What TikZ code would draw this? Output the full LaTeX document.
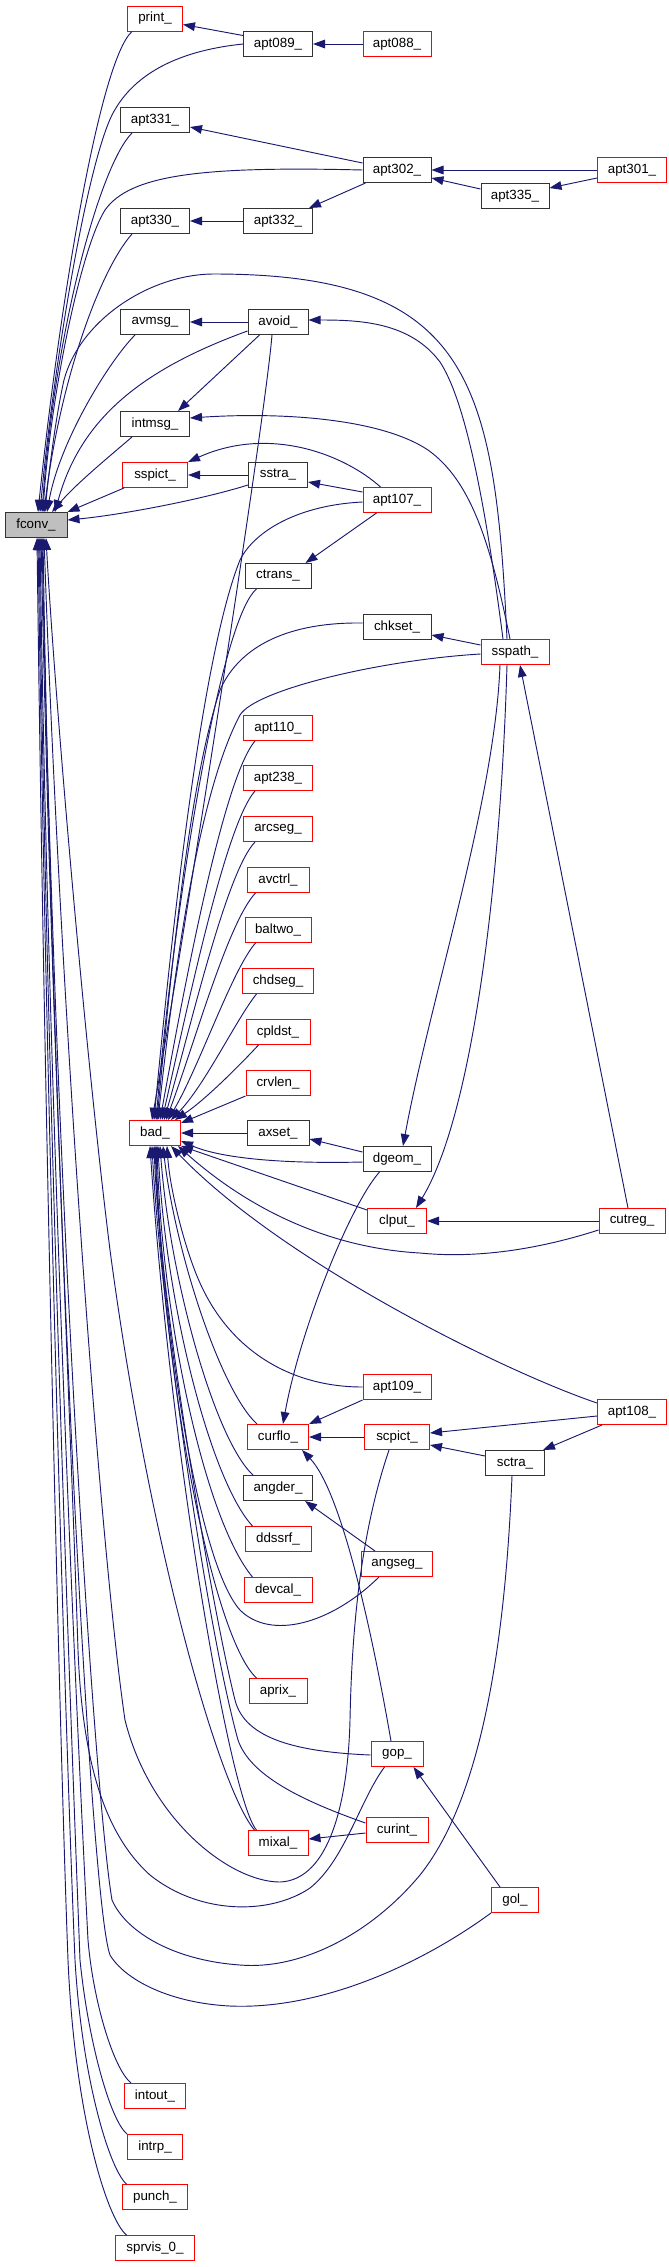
\documentclass[tikz,border=0pt]{standalone}
\usepackage{fontspec}
\setmainfont{Liberation Sans}
\usetikzlibrary{arrows.meta,calc}
\definecolor{edgecol}{HTML}{191970}
\definecolor{fgray}{HTML}{BFBFBF}
\begin{document}
\begin{tikzpicture}[x=0.75pt,y=-0.75pt,
  box/.style={draw, rectangle, minimum height=18.75pt, inner sep=0pt, line width=0.75pt, font=\fontsize{10}{12}\selectfont, text=black},
  bk/.style={box, draw=black!80},
  rd/.style={box, draw=red},
  wd/.style={minimum width=#1*0.75pt},
  e/.style={draw=edgecol, line width=0.7pt, -{Triangle[length=9pt,width=6.5pt]}}]
\fill[white] (0,0) rectangle (668,2267);
\useasboundingbox (0,0) rectangle (668,2267);

% nodes
\node[rd,wd=55] (print) at (155,18.5) {print\_};
\node[bk,wd=69] (apt089) at (278,44) {apt089\_};
\node[rd,wd=68] (apt088) at (397,44) {apt088\_};
\node[bk,wd=69] (apt331) at (155,120) {apt331\_};
\node[bk,wd=68] (apt302) at (397,170) {apt302\_};
\node[rd,wd=69] (apt301) at (632,170) {apt301\_};
\node[bk,wd=68] (apt335) at (515,196) {apt335\_};
\node[bk,wd=69] (apt330) at (155,221) {apt330\_};
\node[bk,wd=69] (apt332) at (278,221) {apt332\_};
\node[bk,wd=69] (avmsg) at (155,322) {avmsg\_};
\node[bk,wd=60] (avoid) at (278,322) {avoid\_};
\node[bk,wd=69] (intmsg) at (155,424) {intmsg\_};
\node[rd,wd=65] (sspict) at (155,475) {sspict\_};
\node[bk,wd=59] (sstra) at (278,475) {sstra\_};
\node[rd,wd=68] (apt107) at (397,500) {apt107\_};
\node[bk,wd=62,fill=fgray] (fconv) at (36,525) {fconv\_};
\node[bk,wd=66] (ctrans) at (278,576) {ctrans\_};
\node[bk,wd=68] (chkset) at (397,627) {chkset\_};
\node[rd,wd=68] (sspath) at (515,652) {sspath\_};
\node[rd,wd=69] (apt110) at (278,728) {apt110\_};
\node[rd,wd=69] (apt238) at (278,778) {apt238\_};
\node[rd,wd=69] (arcseg) at (278,829) {arcseg\_};
\node[rd,wd=62] (avctrl) at (278,880) {avctrl\_};
\node[rd,wd=66] (baltwo) at (278,930) {baltwo\_};
\node[rd,wd=71] (chdseg) at (278,981) {chdseg\_};
\node[rd,wd=64] (cpldst) at (278,1032) {cpldst\_};
\node[rd,wd=64] (crvlen) at (278,1083) {crvlen\_};
\node[rd,wd=51] (bad) at (155,1133) {bad\_};
\node[bk,wd=62] (axset) at (278,1133) {axset\_};
\node[bk,wd=68] (dgeom) at (397,1159) {dgeom\_};
\node[rd,wd=59] (clput) at (397,1221) {clput\_};
\node[rd,wd=66] (cutreg) at (632,1221) {cutreg\_};
\node[rd,wd=68] (apt109) at (397,1387) {apt109\_};
\node[rd,wd=69] (apt108) at (632,1412) {apt108\_};
\node[rd,wd=61] (curflo) at (278,1437) {curflo\_};
\node[rd,wd=65] (scpict) at (397,1437) {scpict\_};
\node[bk,wd=59] (sctra) at (515,1463) {sctra\_};
\node[bk,wd=69] (angder) at (278,1488) {angder\_};
\node[rd,wd=66] (ddssrf) at (278,1539) {ddssrf\_};
\node[rd,wd=71] (angseg) at (397,1564) {angseg\_};
\node[rd,wd=68] (devcal) at (278,1590) {devcal\_};
\node[rd,wd=58] (aprix) at (278,1691) {aprix\_};
\node[rd,wd=52] (gop) at (397,1754) {gop\_};
\node[rd,wd=62] (curint) at (397,1830) {curint\_};
\node[rd,wd=60] (mixal) at (278,1843) {mixal\_};
\node[rd,wd=47] (gol) at (515,1900) {gol\_};
\node[rd,wd=61] (intout) at (155,2096) {intout\_};
\node[rd,wd=55] (intrp) at (155,2147) {intrp\_};
\node[rd,wd=65] (punch) at (155,2197) {punch\_};
\node[rd,wd=79] (sprvis) at (155,2248) {sprvis\_0\_};

% ---- top part
\draw[e] ($(apt089.north west)+(0,4.5)$) -- ($(print.east)+(0,6)$);
\draw[e] (apt088.west) -- (apt089.east);
\draw[e] ($(print.south west)+(5,0)$) .. controls (100,60) and (60,300) .. ($(fconv.north)+(2,0)$);
\draw[e] (apt089.west) .. controls (185,50) and (135,70) .. (112,115) .. controls (85,170) and (52,380) .. ($(fconv.north)+(4,0)$);
\draw[e] ($(apt302.west)+(0,-7)$) -- ($(apt331.east)+(0,7)$);
\draw[e] ($(apt331.south west)+(12,0)$) .. controls (100,165) and (55,330) .. ($(fconv.north)+(6,0)$);
\draw[e] (apt301.west) -- (apt302.east);
\draw[e] ($(apt301.west)+(0,8)$) -- ($(apt335.east)+(0,-8)$);
\draw[e] ($(apt335.west)+(0,-7)$) -- ($(apt302.east)+(0,8)$);
\draw[e] (apt302.west) .. controls (200,166) and (130,175) .. (105,210) .. controls (80,250) and (50,400) .. ($(fconv.north)+(7,0)$);
\draw[e] ($(apt302.south west)+(3,0)$) -- ($(apt332.north east)+(-4,0)$);
\draw[e] (apt332.west) -- (apt330.east);
\draw[e] ($(apt330.south west)+(12,0)$) .. controls (100,270) and (60,380) .. ($(fconv.north)+(8,0)$);
\draw[e] ($(sspath.north)+(-8,0)$) .. controls (495,380) and (470,274) .. (214,274) .. controls (150,274) and (80,320) .. (64,380) .. controls (55,420) and (48,480) .. ($(fconv.north)+(9,0)$);
\draw[e] ($(avmsg.south west)+(15,0)$) .. controls (110,360) and (60,440) .. ($(fconv.north)+(11,0)$);
\draw[e] (avoid.west) -- (avmsg.east);
\draw[e] ($(avoid.west)+(0,9)$) .. controls (140,370) and (80,420) .. ($(fconv.north)+(19,0)$);
\draw[e] ($(avoid.south west)+(12,0)$) -- ($(intmsg.north east)+(-12,0)$);
\draw[e] ($(avoid.south)+(-6,0)$) .. controls (265,420) and (190,900) .. ($(bad.north)+(-3,0)$);
\draw[e] ($(sspath.north)+(-12,0)$) .. controls (485,500) and (465,400) .. (440,362) .. controls (410,322) and (360,320) .. ($(avoid.east)+(0,-2)$);
\draw[e] ($(sspath.north)+(-5,0)$) .. controls (490,540) and (470,480) .. (428,450) .. controls (380,418) and (280,412) .. ($(intmsg.east)+(0,-6)$);
\draw[e] ($(intmsg.south west)+(12,0)$) .. controls (105,460) and (75,485) .. ($(fconv.north)+(16,0)$);
\draw[e] ($(sspict.south west)+(2,0)$) -- (fconv.north east);
\draw[e] (sstra.west) -- (sspict.east);
\draw[e] ($(sstra.west)+(0,10)$) .. controls (200,500) and (120,515) .. ($(fconv.east)+(0,-5)$);
\draw[e] ($(apt107.north west)+(18,0)$) .. controls (345,455) and (270,425) .. (sspict.north east);
\draw[e] ($(apt107.west)+(0,-8)$) -- ($(sstra.east)+(0,7)$);
\draw[e] ($(apt107.west)+(0,2)$) .. controls (300,505) and (255,530) .. (240,560) .. controls (200,660) and (170,950) .. ($(bad.north)+(-1,0)$);
\draw[e] ($(apt107.south west)+(14,0)$) -- ($(ctrans.north east)+(-6,0)$);
\draw[e] ($(ctrans.south west)+(12,0)$) .. controls (220,620) and (175,900) .. ($(bad.north)+(1,0)$);
\draw[e] ($(chkset.west)+(0,-4)$) .. controls (290,622) and (240,645) .. (220,690) .. controls (190,780) and (172,960) .. ($(bad.north)+(2,0)$);
\draw[e] ($(sspath.west)+(0,-7)$) -- ($(chkset.east)+(0,8)$);
\draw[e] ($(sspath.west)+(0,2)$) .. controls (380,660) and (255,690) .. (240,715) .. controls (200,790) and (175,960) .. ($(bad.north)+(3,0)$);

% ---- column into bad
\draw[e] ($(apt110.south west)+(12,0)$) .. controls (222,780) and (182,1000) .. ($(bad.north)+(5,0)$);
\draw[e] ($(apt238.south west)+(12,0)$) .. controls (225,825) and (187,1010) .. ($(bad.north)+(7,0)$);
\draw[e] ($(arcseg.south west)+(12,0)$) .. controls (226,872) and (190,1030) .. ($(bad.north)+(9,0)$);
\draw[e] ($(avctrl.south west)+(9,0)$) .. controls (228,922) and (194,1045) .. ($(bad.north)+(11,0)$);
\draw[e] ($(baltwo.south west)+(11,0)$) .. controls (232,970) and (200,1065) .. ($(bad.north)+(13,0)$);
\draw[e] ($(chdseg.south west)+(14.5,0)$) .. controls (237,1018) and (205,1085) .. ($(bad.north)+(16,0)$);
\draw[e] ($(cpldst.south west)+(13,0)$) .. controls (240,1065) and (205,1100) .. ($(bad.north)+(20,0)$);
\draw[e] (crvlen.south west) -- ($(bad.north east)+(0,3)$);

% ---- middle
\draw[e] (axset.west) -- (bad.east);
\draw[e] ($(dgeom.west)+(0,-7)$) -- ($(axset.east)+(0,6)$);
\draw[e] ($(dgeom.west)+(0,3)$) .. controls (280,1164) and (220,1158) .. ($(bad.east)+(0,8)$);
\draw[e] ($(clput.north west)+(0,2)$) -- (bad.south east);
\draw[e] (cutreg.west) -- (clput.east);
\draw[e] ($(cutreg.west)+(0,9)$) .. controls (530,1252) and (470,1258) .. (420,1253) .. controls (330,1248) and (250,1210) .. ($(bad.south east)+(-3,0)$);
\draw[e] ($(cutreg.north)+(-4,0)$) -- ($(sspath.south)+(5,0)$);
\draw[e] ($(sspath.south)+(-15,0)$) .. controls (495,800) and (430,1000) .. ($(dgeom.north)+(6,0)$);
\draw[e] ($(sspath.south)+(-8,0)$) .. controls (500,900) and (470,1120) .. ($(clput.north)+(19,0)$);
\draw[e] ($(dgeom.south west)+(17,0)$) .. controls (350,1205) and (300,1330) .. ($(curflo.north)+(5,0)$);
\draw[e] (apt109.west) .. controls (290,1387) and (230,1350) .. (200,1283) .. controls (185,1250) and (170,1190) .. ($(bad.south)+(12,0)$);
\draw[e] (apt109.south west) -- (curflo.north east);
\draw[e] ($(apt108.west)+(0,-9)$) .. controls (500,1370) and (280,1260) .. ($(bad.south)+(16,0)$);
\draw[e] ($(apt108.west)+(0,4)$) -- ($(scpict.east)+(0,-4)$);
\draw[e] ($(apt108.south west)+(5,0)$) -- ($(sctra.north east)+(-2,0)$);
\draw[e] ($(sctra.west)+(0,-7)$) -- ($(scpict.east)+(0,8)$);
\draw[e] (scpict.west) -- (curflo.east);
\draw[e] ($(curflo.north west)+(10,0)$) .. controls (220,1390) and (175,1250) .. ($(bad.south)+(8,0)$);
\draw[e] ($(angder.north west)+(10,0)$) .. controls (215,1440) and (170,1280) .. ($(bad.south)+(5,0)$);
\draw[e] ($(ddssrf.north west)+(8,0)$) .. controls (210,1480) and (165,1300) .. ($(bad.south)+(3,0)$);
\draw[e] ($(devcal.north west)+(9,0)$) .. controls (205,1520) and (162,1320) .. ($(bad.south)+(2,0)$);
\draw[e] ($(angseg.south west)+(18,0)$) .. controls (330,1625) and (270,1640) .. (240,1610) .. controls (195,1560) and (160,1300) .. ($(bad.south)+(1,0)$);
\draw[e] ($(angseg.north west)+(14,0)$) -- ($(angder.south east)+(-8,0)$);
\draw[e] ($(aprix.north west)+(8,0)$) .. controls (215,1640) and (165,1400) .. (bad.south);
\draw[e] ($(gop.west)+(0,1)$) .. controls (300,1752) and (245,1740) .. (235,1700) .. controls (210,1600) and (160,1300) .. ($(bad.south)+(-1,0)$);
\draw[e] ($(curint.west)+(0,-7)$) .. controls (300,1800) and (250,1775) .. (238,1740) .. controls (205,1620) and (160,1300) .. ($(bad.south)+(-3,0)$);
\draw[e] ($(curint.west)+(0,3)$) -- ($(mixal.east)+(0,-4)$);
\draw[e] ($(mixal.north west)+(9,0)$) .. controls (230,1800) and (170,1450) .. ($(bad.south)+(-5,0)$);
\draw[e] ($(gop.north)+(-6,0)$) .. controls (370,1620) and (340,1490) .. ($(curflo.south east)+(-7,0)$);
\draw[e] ($(gol.north west)+(9,0)$) -- ($(gop.south east)+(-10,0)$);

% ---- bottom into fconv
\draw[e] ($(mixal.north west)+(7,0)$) .. controls (220,1790) and (150,1550) .. (110,1250) .. controls (85,1050) and (55,700) .. ($(fconv.south)+(10,0)$);
\draw[e] ($(scpict.south)+(-8,0)$) .. controls (362,1530) and (352,1620) .. (350,1720) .. controls (348,1800) and (330,1880) .. (280,1882) .. controls (230,1882) and (150,1820) .. (125,1720) .. controls (100,1550) and (60,1000) .. ($(fconv.south)+(8,0)$);
\draw[e] ($(gop.south west)+(14,0)$) .. controls (360,1800) and (345,1860) .. (310,1888) .. controls (270,1915) and (200,1915) .. (150,1875) .. controls (100,1830) and (82,1750) .. (78,1650) .. controls (70,1400) and (50,1000) .. ($(fconv.south)+(7,0)$);
\draw[e] ($(sctra.south)+(-3,0)$) .. controls (505,1650) and (480,1800) .. (420,1875) .. controls (370,1935) and (300,1970) .. (240,1965) .. controls (170,1960) and (125,1930) .. (112,1900) .. controls (95,1800) and (55,1200) .. ($(fconv.south)+(6,0)$);
\draw[e] (gol.south west) .. controls (420,1965) and (320,2010) .. (230,2006) .. controls (170,2003) and (125,1980) .. (110,1955) .. controls (90,1900) and (55,1200) .. ($(fconv.south)+(5,0)$);
\draw[e] ($(intout.north west)+(7,0)$) .. controls (113,2068) and (93,2000) .. (88,1940) .. controls (78,1750) and (48,1100) .. ($(fconv.south)+(4,0)$);
\draw[e] (intrp.north west) .. controls (110,2120) and (88,2040) .. (80,1960) .. controls (72,1750) and (47,1100) .. ($(fconv.south)+(3,0)$);
\draw[e] ($(punch.north west)+(4.5,0)$) .. controls (110,2170) and (82,2080) .. (75,1960) .. controls (66,1750) and (46,1100) .. ($(fconv.south)+(2,0)$);
\draw[e] ($(sprvis.north west)+(11.5,0)$) .. controls (108,2220) and (75,2120) .. (68,1960) .. controls (60,1750) and (44,1100) .. ($(fconv.south)+(1,0)$);
\end{tikzpicture}
\end{document}
